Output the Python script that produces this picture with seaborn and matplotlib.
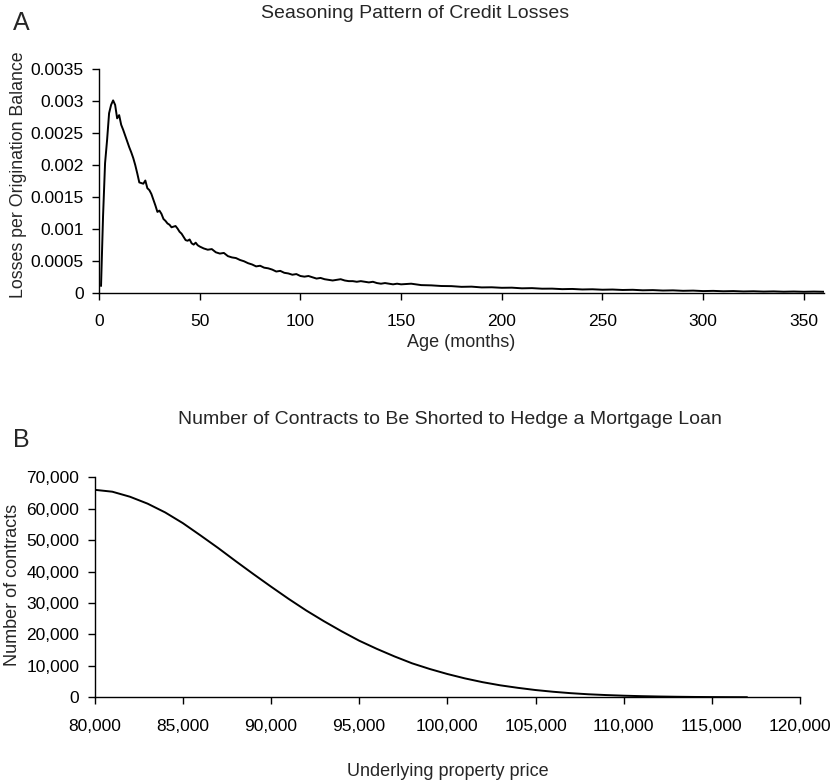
"""Two-panel figure: seasoning pattern of credit losses (A) and hedge contracts (B)."""
import matplotlib

matplotlib.use("Agg")
import matplotlib.pyplot as plt
import matplotlib.ticker as mticker
import pandas as pd
import seaborn as sns

# Panel A: losses per origination balance by loan age (months)
AGE_MONTHS = (
    list(range(1, 51))
    + list(range(52, 151, 2))
    + list(range(155, 361, 5))
)
LOSS_RATE = [
    # months 1-50
    0.000114, 0.00120, 0.00203, 0.00239, 0.00281, 0.00294, 0.00301, 0.00294,
    0.00273, 0.00278, 0.00263, 0.00255, 0.00246, 0.00237, 0.00228, 0.00220,
    0.00211, 0.00200, 0.00187, 0.00173, 0.00172, 0.00171, 0.00176, 0.00164,
    0.00161, 0.00155, 0.00146, 0.00137, 0.00127, 0.00129, 0.00124, 0.00116,
    0.00113, 0.00109, 0.00107, 0.00103, 0.00104, 0.00105, 0.00101, 0.00096,
    0.00093, 0.00088, 0.00083, 0.00082, 0.00084, 0.00078, 0.00076, 0.00079,
    0.00075, 0.00073,
    # months 52-150, every 2
    0.00070, 0.00068, 0.00069, 0.00064, 0.00062, 0.00063, 0.00058, 0.00056,
    0.00055, 0.00052, 0.00050, 0.00047, 0.00045, 0.00042, 0.00043, 0.00040,
    0.00039, 0.00037, 0.00034, 0.00035, 0.00032, 0.00031, 0.00029, 0.00030,
    0.00027, 0.00026, 0.00027, 0.00025, 0.00023, 0.00024, 0.00022, 0.00021,
    0.00020, 0.00021, 0.00022, 0.00020, 0.00019, 0.00019, 0.00018, 0.00019,
    0.00018, 0.00017, 0.00018, 0.00016, 0.00015, 0.00016, 0.00015, 0.00014,
    0.00015, 0.00014,
    # months 155-360, every 5
    0.000150, 0.000128, 0.000124, 0.000114, 0.000112, 0.000101, 0.000104,
    0.000092, 0.000094, 0.000086, 0.000088, 0.000078, 0.000081, 0.000072,
    0.000073, 0.000065, 0.000068, 0.000060, 0.000063, 0.000056, 0.000059,
    0.000052, 0.000055, 0.000047, 0.000050, 0.000043, 0.000046, 0.000039,
    0.000042, 0.000035, 0.000038, 0.000032, 0.000035, 0.000029, 0.000032,
    0.000027, 0.000030, 0.000025, 0.000028, 0.000024, 0.000027, 0.000024,
]

# Panel B: contracts to short vs underlying property price
PROPERTY_PRICE = list(range(80000, 117001, 1000))
CONTRACTS = [
    66000, 65400, 63800, 61600, 58800, 55400, 51500, 47500, 43300, 39200,
    35200, 31300, 27600, 24200, 21000, 18000, 15400, 13000, 10800, 9000,
    7400, 6000, 4800, 3800, 3000, 2300, 1750, 1300, 950, 700,
    500, 350, 240, 160, 100, 60, 35, 20,
]

FONT = ["Liberation Sans", "DejaVu Sans"]


def style_axis(ax):
    sns.despine(ax=ax)
    for side in ("left", "bottom"):
        ax.spines[side].set_linewidth(1.0)
        ax.spines[side].set_color("black")
    ax.tick_params(direction="out", length=5, width=1.0, colors="black",
                   labelsize=12.5)
    ax.grid(False)


def main() -> None:
    sns.set_theme(style="ticks")
    plt.rcParams["font.family"] = FONT

    seasoning = pd.DataFrame({"age": AGE_MONTHS, "loss": LOSS_RATE})
    hedge = pd.DataFrame({"price": PROPERTY_PRICE, "contracts": CONTRACTS})

    fig = plt.figure(figsize=(8.37, 7.83), dpi=100)

    # --- Panel A ---
    ax_a = fig.add_axes([0.1183, 0.6254, 0.8662, 0.2865])
    sns.lineplot(data=seasoning, x="age", y="loss", color="black",
                 linewidth=1.4, ax=ax_a)
    ax_a.set_xlim(0, 360)
    ax_a.set_ylim(0, 0.0035)
    ax_a.set_xticks(range(0, 351, 50))
    ax_a.set_yticks([0, 0.0005, 0.001, 0.0015, 0.002, 0.0025, 0.003, 0.0035])
    ax_a.yaxis.set_major_formatter(mticker.FuncFormatter(
        lambda v, _: "0" if v == 0 else f"{v:.4f}".rstrip("0")))
    style_axis(ax_a)
    ax_a.tick_params(axis="x", pad=10)
    ax_a.tick_params(axis="y", pad=6)
    ax_a.set_xlabel("Age (months)", fontsize=13)
    ax_a.set_ylabel("Losses per Origination Balance", fontsize=12.8)
    ax_a.xaxis.set_label_coords(0.5, -0.183)
    ax_a.yaxis.set_label_coords(-0.100, 0.530)

    # --- Panel B ---
    ax_b = fig.add_axes([0.1131, 0.1095, 0.8427, 0.2810])
    sns.lineplot(data=hedge, x="price", y="contracts", color="black",
                 linewidth=1.4, ax=ax_b)
    ax_b.set_xlim(80000, 120000)
    ax_b.set_ylim(0, 70000)
    ax_b.set_xticks(range(80000, 120001, 5000))
    ax_b.set_yticks(range(0, 70001, 10000))
    comma = mticker.FuncFormatter(lambda v, _: f"{int(v):,}")
    ax_b.xaxis.set_major_formatter(comma)
    ax_b.yaxis.set_major_formatter(comma)
    style_axis(ax_b)
    ax_b.tick_params(axis="x", pad=10.5)
    ax_b.tick_params(axis="y", pad=6)
    ax_b.set_xlabel("Underlying property price", fontsize=13)
    ax_b.set_ylabel("Number of contracts", fontsize=13)
    ax_b.xaxis.set_label_coords(0.5, -0.300)
    ax_b.yaxis.set_label_coords(-0.104, 0.51)

    # titles and panel letters
    fig.text(0.496, 1 - 13 / 783, "Seasoning Pattern of Credit Losses",
             ha="center", va="center", fontsize=14)
    fig.text(0.537, 1 - 419 / 783,
             "Number of Contracts to Be Shorted to Hedge a Mortgage Loan",
             ha="center", va="center", fontsize=14)
    fig.text(0.015, 1 - 23 / 783, "A", ha="left", va="center", fontsize=18)
    fig.text(0.015, 1 - 440 / 783, "B", ha="left", va="center", fontsize=18)

    fig.savefig("out.png", dpi=100, facecolor="white")
    plt.close(fig)


if __name__ == "__main__":
    main()
